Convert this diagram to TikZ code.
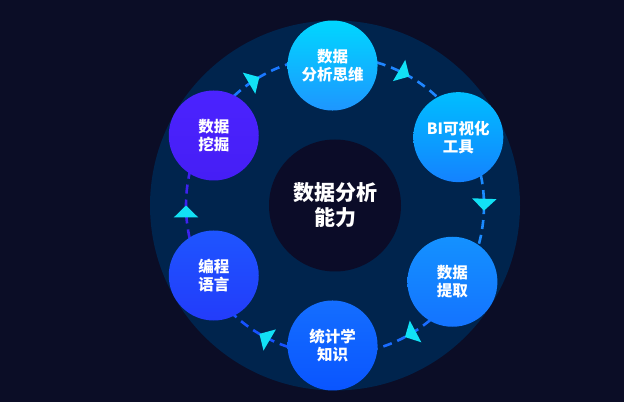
\documentclass[tikz,border=0pt]{standalone}
\usepackage{fontspec}
\newfontfamily\cjk{Noto Sans CJK SC}
\usetikzlibrary{arrows.meta}
\usetikzlibrary{decorations.markings}
\definecolor{bgnavy}{RGB}{11,13,38}
\definecolor{ringnavy}{RGB}{0,36,77}
\definecolor{corenavy}{RGB}{11,12,40}
\definecolor{arrowcyan}{RGB}{18,225,245}
% dash colours
\definecolor{dashA}{RGB}{31,134,255}
\definecolor{dashB}{RGB}{26,138,255}
\definecolor{dashC}{RGB}{26,108,255}
\definecolor{dashD}{RGB}{23,82,255}
\definecolor{dashE}{RGB}{61,34,240}
\definecolor{dashF}{RGB}{26,120,255}
% node colours
\definecolor{thinkT}{RGB}{0,215,255}
\definecolor{thinkB}{RGB}{30,150,255}
\definecolor{biT}{RGB}{0,190,255}
\definecolor{biB}{RGB}{20,130,255}
\definecolor{fetchT}{RGB}{20,145,255}
\definecolor{fetchB}{RGB}{20,115,255}
\definecolor{statT}{RGB}{20,110,255}
\definecolor{statB}{RGB}{10,85,255}
\definecolor{codeT}{RGB}{30,85,255}
\definecolor{codeB}{RGB}{35,60,250}
\definecolor{mineT}{RGB}{75,35,255}
\definecolor{mineB}{RGB}{70,30,245}

\begin{document}
\begin{tikzpicture}[
x=1pt, y=1pt,
skill/.style 2 args={circle, minimum size=90pt, inner sep=0, top color=#1, bottom color=#2, text=white, font=\cjk\bfseries\fontsize{15.5}{18}\selectfont, align=center},
ring/.style={draw=#1, line width=2.6pt, dash pattern=on 9pt off 6pt, postaction={decorate},
  decoration={markings, mark=at position 0.5 with {\arrow{Triangle[width=24pt,length=12pt,color=arrowcyan]}}}}
]
\useasboundingbox (0,0) rectangle (624,402);
\fill[bgnavy] (0,0) rectangle (624,402);
\coordinate (c) at (335,196.5);
\fill[ringnavy] (c) circle[radius=185];
\node [circle, minimum size=132pt, inner sep=0, fill=corenavy, text=white, align=center, font=\cjk\bfseries\fontsize{21}{25}\selectfont] (core) at (c) {数据分析\\能力};
% dashed loop, clockwise
\draw[ring=dashA] ([shift={(91:149)}]c) arc[start angle=91, end angle=29, radius=149];
\draw[ring=dashB] ([shift={(29:149)}]c) arc[start angle=29, end angle=-33, radius=149];
\draw[ring=dashC] ([shift={(-33:149)}]c) arc[start angle=-33, end angle=-91, radius=149];
\draw[ring=dashD] ([shift={(269:149)}]c) arc[start angle=269, end angle=210, radius=149];
\draw[ring=dashE] ([shift={(210:149)}]c) arc[start angle=210, end angle=150, radius=149];
\draw[ring=dashF] ([shift={(150:149)}]c) arc[start angle=150, end angle=91, radius=149];
% skill nodes
\node [skill={thinkT}{thinkB}] (think) at ([shift={(91:140)}]c) {数据\\分析思维};
\node [skill={biT}{biB}] (bi) at ([shift={(29:141)}]c) {BI可视化\\工具};
\node [skill={fetchT}{fetchB}] (fetch) at ([shift={(-33:140)}]c) {数据\\提取};
\node [skill={statT}{statB}] (stat) at ([shift={(269:140)}]c) {统计学\\知识};
\node [skill={codeT}{codeB}] (code) at ([shift={(210:140)}]c) {编程\\语言};
\node [skill={mineT}{mineB}] (mine) at ([shift={(150:140)}]c) {数据\\挖掘};
\end{tikzpicture}
\end{document}
